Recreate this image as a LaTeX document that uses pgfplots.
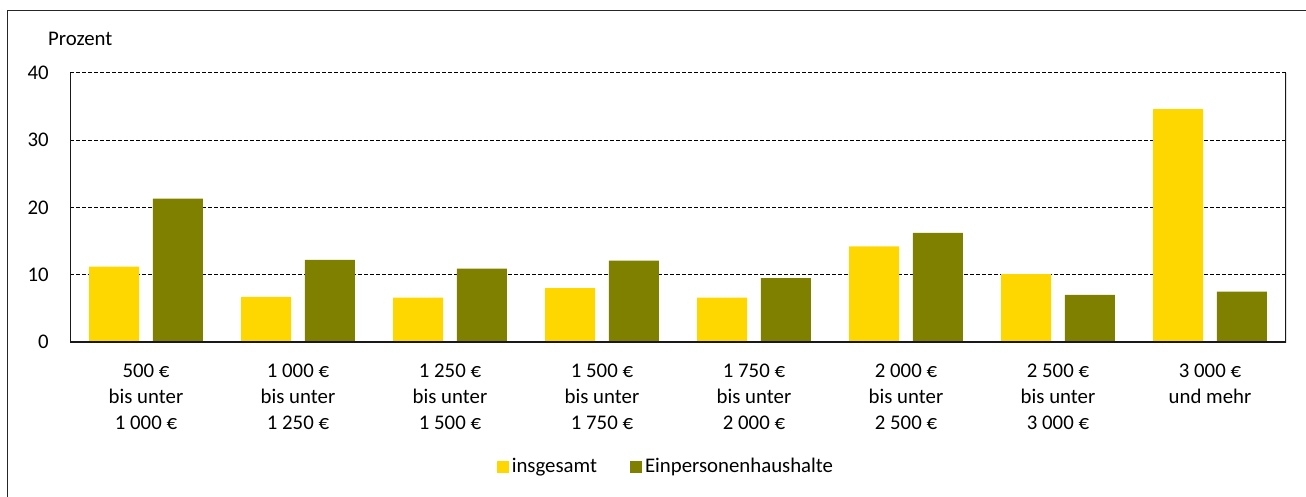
\documentclass[border=0pt]{standalone}
\usepackage{fontspec}
\setmainfont{Carlito}
\usepackage{pgfplots}
\pgfplotsset{compat=1.18}
\definecolor{gelb}{HTML}{FFD700}
\definecolor{oliv}{HTML}{808000}
\begin{document}
\fontsize{10.4}{12.9}\selectfont
\begin{tikzpicture}[x=1pt,y=1pt]
\useasboundingbox (0,0) rectangle (653,-248.5);
\draw[line width=0.6pt, black!85] (3.6,-250) -- (3.6,-5.1) -- (655,-5.1);
\node[anchor=base west, inner sep=0] at (23.9,-22.8) {Prozent};
\begin{axis}[
  at={(35pt,-171pt)}, anchor=south west,
  scale only axis, width=608pt, height=134.6pt,
  xmin=-0.5, xmax=7.5, ymin=0, ymax=40,
  ytick={0,10,20,30,40},
  xtick={0,...,7},
  xticklabels={{500 €\\bis unter\\1 000 €},{1 000 €\\bis unter\\1 250 €},{1 250 €\\bis unter\\1 500 €},{1 500 €\\bis unter\\1 750 €},{1 750 €\\bis unter\\2 000 €},{2 000 €\\bis unter\\2 500 €},{2 500 €\\bis unter\\3 000 €},{3 000 €\\und mehr}},
  xticklabel style={align=center, yshift=-7.5pt},
  yticklabel style={xshift=-7pt},
  /pgf/number format/assume math mode=true,
  major tick length=0pt,
  axis line style={draw=none},
  ymajorgrids,
  major grid style={black, line width=0.5pt, dash pattern=on 2pt off 1pt},
  legend columns=2,
  legend style={at={(0.4905,-0.4643)}, anchor=center, draw=none, fill=none,
    /tikz/every even column/.append style={column sep=15pt},
    nodes={inner sep=1.5pt}},
]
\addplot[ybar, bar width=25pt, bar shift=-15.9pt, fill=gelb, draw=none,
  legend image code/.code={\fill[gelb] (0pt,-3pt) rectangle (6pt,3pt);}]
  coordinates {(0,11.2) (1,6.7) (2,6.6) (3,8.0) (4,6.6) (5,14.2) (6,10.1) (7,34.6)};
\addlegendentry{insgesamt}
\addplot[ybar, bar width=25pt, bar shift=15.9pt, fill=oliv, draw=none,
  legend image code/.code={\fill[oliv] (0pt,-3pt) rectangle (6pt,3pt);}]
  coordinates {(0,21.3) (1,12.2) (2,10.9) (3,12.1) (4,9.5) (5,16.2) (6,7.0) (7,7.5)};
\addlegendentry{Einpersonenhaushalte}
\draw[line width=0.7pt, black!90] (rel axis cs:0,1) -- (rel axis cs:0,0) -- (rel axis cs:1,0) -- (rel axis cs:1,1);
\end{axis}
\end{tikzpicture}
\end{document}
